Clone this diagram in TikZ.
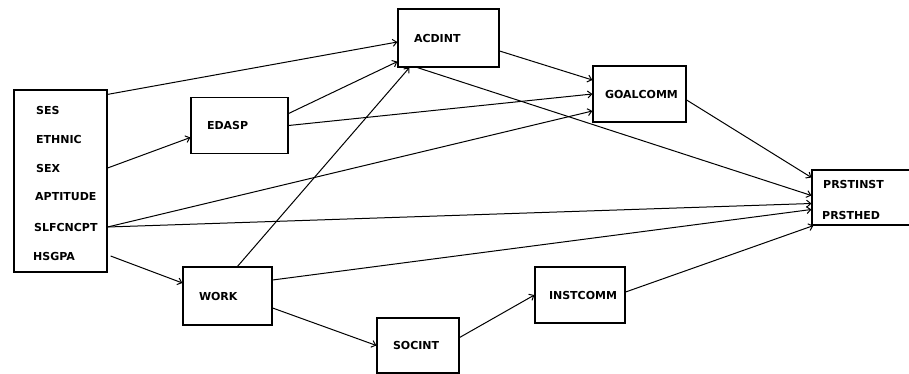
\documentclass[tikz,border=0pt]{standalone}
\usepackage{fontspec}
\setmainfont{DejaVu Sans}
\usepackage{tikz}
\usetikzlibrary{arrows.meta}

\begin{document}
\begin{tikzpicture}[x=1pt, y=-1pt,
	framebox/.style={draw, line width=1.2pt, inner sep=0pt},
	varbox/.style={framebox, inner xsep=16pt, inner ysep=0pt, align=left, minimum height=56pt, font=\fontsize{11}{13}\selectfont\bfseries},
	lbl/.style={anchor=west, inner sep=0pt, font=\fontsize{11}{13}\selectfont\bfseries},
	link/.style={-{Straight Barb[length=4pt,width=7pt]}, line width=1pt}]
	\useasboundingbox (0,0) rectangle (909,374);

	\node [framebox, minimum width=93pt, minimum height=182pt] (bg) at (60.5,181) {};
	\node [lbl] (ses) at (36,110) {SES};
	\node [lbl] (ethnic) at (36,139) {ETHNIC};
	\node [lbl] (sex) at (36,168) {SEX};
	\node [lbl] (apt) at (35,197) {APTITUDE};
	\node [lbl] (slf) at (34,227) {SLFCNCPT};
	\node [lbl] (hsgpa) at (33,256) {HSGPA};

	\node [varbox, text width=65pt] (edasp) at (239.5,125.5) {EDASP};
	\node [varbox, text width=69pt, minimum height=58pt] (acdint) at (448.5,38) {ACDINT};
	\node [varbox, inner xsep=12pt, text width=69pt] (goalcomm) at (639.5,94) {GOALCOMM};
	\node [varbox, text width=57pt, minimum height=58pt] (work) at (227.5,296) {WORK};
	\node [varbox, text width=50pt, minimum height=55pt] (socint) at (418,345.5) {SOCINT};
	\node [varbox, inner xsep=14pt, text width=62pt] (instcomm) at (580,295) {INSTCOMM};

	\node [framebox, minimum width=113pt, minimum height=55pt] (prst) at (868.5,197.5) {};
	\node [lbl] (prstinst) at (823,184) {PRSTINST};
	\node [lbl] (prsthed) at (822,215) {PRSTHED};

	\draw [link] ([yshift=-5pt]bg.north east) -- ([yshift=-4pt]acdint.west);
	\draw [link] (bg.east |- sex) -- ([yshift=-12pt]edasp.west);
	\draw [link] (bg.east |- slf) -- ([yshift=-17pt]goalcomm.west);
	\draw [link] (bg.east |- slf) -- ([yshift=-6pt]prst.west);
	\draw [link] ([xshift=3pt]bg.east |- hsgpa) -- ([yshift=13pt]work.west);

	\draw [link] ([yshift=12pt]edasp.east) -- ([yshift=6pt]acdint.south west);
	\draw [link] (edasp.east) -- (goalcomm.west);
	\draw [link] ([yshift=-13pt]acdint.east) -- ([yshift=14pt]goalcomm.west);
	\draw [link] ([xshift=20pt]acdint.south west) -- ([yshift=2pt]prst.west);
	\draw [link] ([yshift=-6pt]goalcomm.east) -- ([yshift=20pt]prst.west);

	\draw [link] ([xshift=10pt]work.north) -- ([xshift=12pt]acdint.south west);
	\draw [link] ([yshift=16pt]work.east) -- ([yshift=-12pt]prst.west);
	\draw [link] ([yshift=-12pt]work.east) -- (socint.west);
	\draw [link] ([yshift=8pt]socint.east) -- (instcomm.west);
	\draw [link] ([yshift=3pt]instcomm.east) -- ([xshift=2pt]prst.south west);
\end{tikzpicture}
\end{document}
